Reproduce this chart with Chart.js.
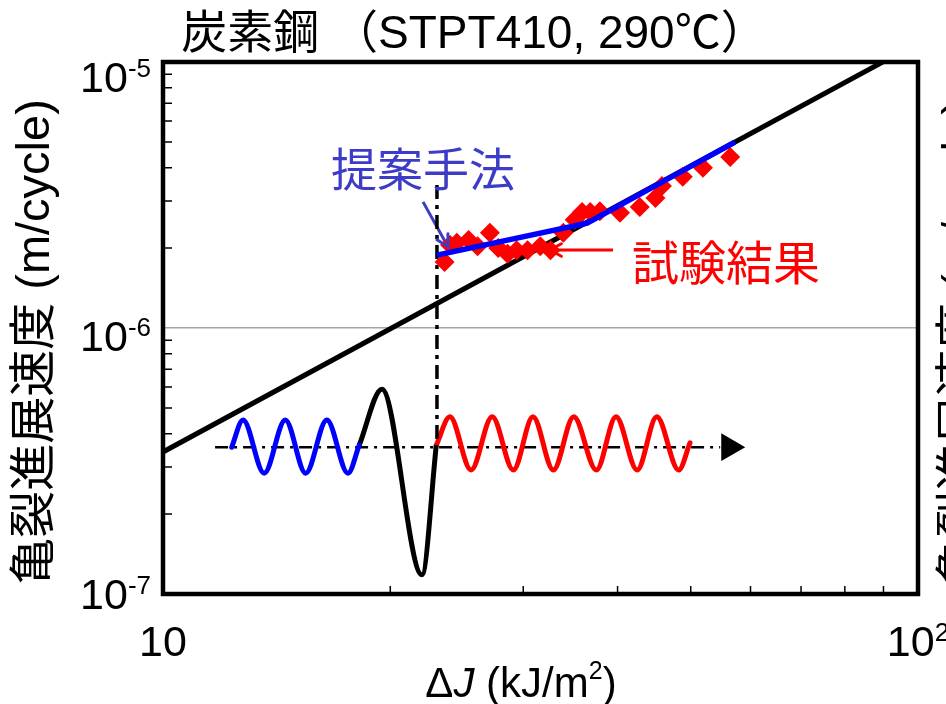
<!DOCTYPE html>
<html><head><meta charset="utf-8">
<script src="https://cdn.jsdelivr.net/npm/chart.js@4"></script>
<style>html,body{margin:0;padding:0;background:#fff}</style>
</head><body>
<canvas id="c" width="946" height="704"></canvas>
<script>
// ---------- text ----------
const titleText = '炭素鋼 （STPT410, 290℃）';
const yTitleText = '亀裂進展速度 (m/cycle)';
const proposedLabel = '提案手法';
const testLabel = '試験結果';

// ---------- ticks ----------
const xMajorTicks = [10, 100];
const xTickBase = ['10', '10'];
const xTickExp = ['', '2'];
const xMinorTicks = [20, 30, 40, 50, 60, 70, 80, 90];
const yMajorTicks = [1e-7, 1e-6, 1e-5];
const yTickBase = ['10', '10', '10'];
const yTickExp = ['-7', '-6', '-5'];
const yMinorTicks = [2e-7, 3e-7, 4e-7, 5e-7, 6e-7, 7e-7, 8e-7, 9e-7,
                     2e-6, 3e-6, 4e-6, 5e-6, 6e-6, 7e-6, 8e-6, 9e-6];

// ---------- data (ΔJ kJ/m², da/dN m/cycle) ----------
const testDJ   = [23.6, 24.0, 24.5, 25.4, 26.1, 27.1, 27.8, 28.6, 29.4, 30.4, 31.6, 32.6,
                  33.9, 35.1, 35.9, 36.8, 37.9, 40.3, 42.8, 44.9, 45.8, 48.8, 51.9, 56.4];
const testRate = [1.77e-6, 2.05e-6, 2.09e-6, 2.14e-6, 2.03e-6, 2.28e-6, 2.00e-6, 1.90e-6,
                  1.96e-6, 1.96e-6, 2.03e-6, 1.96e-6, 2.28e-6, 2.55e-6, 2.73e-6, 2.73e-6,
                  2.75e-6, 2.71e-6, 2.85e-6, 3.08e-6, 3.42e-6, 3.70e-6, 4.00e-6, 4.39e-6];
const parisDJ   = [10, 100];
const parisRate = [3.42e-7, 1.18e-5];
const proposedDJ   = [23.06, 36.45, 57.2];
const proposedRate = [1.88e-6, 2.48e-6, 5.0e-6];
const switchDJ   = [23.06, 23.06];
const switchRate = [3.45e-6, 3.63e-7];
// annotation arrows
const propArrowDJ = [22.1, 23.85];
const propArrowRate = [2.98e-6, 2.02e-6];
const testArrowDJ = [39.45, 32.55];
const testArrowRate = [1.964e-6, 1.964e-6];
const proposedLabelAt = [22.1, 3.98e-6];
const testLabelAt = [55.7, 1.77e-6];

// ---------- schematic load waveform (schematic units 0-100) ----------
const waveBlueX = [9.1, 10.6, 13.4, 16.2, 18.9, 21.7, 24.5, 26.0];
const waveBlueY = [27.6, 32.7, 22.7, 32.7, 22.7, 32.7, 22.7, 28.0];
const waveBlackX = [26.0, 29.0, 34.3, 36.2];
const waveBlackY = [28.0, 38.5, 3.6, 28.0];
const waveRedX = [36.2, 38.0, 40.8, 43.6, 46.4, 49.0, 51.7, 54.4, 57.4, 60.0, 62.8, 65.4, 68.3, 69.8];
const waveRedY = [28.0, 33.3, 23.3, 33.3, 23.3, 33.3, 23.3, 33.3, 23.3, 33.3, 23.3, 33.3, 23.3, 28.4];
const timeAxisX = [6.9, 73.8];
const timeAxisY = [27.6, 27.6];
const timeArrowX = [75.0];
const timeArrowY = [27.6];

const zip = (xs, ys) => xs.map((v, i) => ({x: v, y: ys[i]}));
const LATIN = "'Liberation Sans', Arial, 'Noto Sans CJK JP', sans-serif";
const CJK = "'Noto Sans CJK JP', 'Liberation Sans', sans-serif";
const yLabelShift = [0, 8, 15];

function powLabel(ctx, base, exp, x, yMid, align, bs, es) {
  ctx.font = bs + 'px ' + LATIN;
  const wb = ctx.measureText(base).width;
  ctx.font = es + 'px ' + LATIN;
  const we = exp ? ctx.measureText(exp).width : 0;
  const total = wb + we;
  const left = align === 'right' ? x - total : align === 'center' ? x - total / 2 : x;
  const baseline = yMid + 0.358 * bs;
  ctx.textAlign = 'left'; ctx.textBaseline = 'alphabetic';
  ctx.font = bs + 'px ' + LATIN;
  ctx.fillText(base, left, baseline);
  if (exp) {
    ctx.font = es + 'px ' + LATIN;
    const top = baseline - 0.716 * bs - 3;
    ctx.fillText(exp, left + wb, top + 0.716 * es);
  }
}

const decor = {
  id: 'decor',
  afterDatasetsDraw(chart) {
    const {ctx} = chart;
    ctx.save();
    chart.data.datasets.forEach((ds, i) => {
      if (!ds.arrowHead) return;
      const pts = chart.getDatasetMeta(i).data;
      const p1 = pts[pts.length - 2], p2 = pts[pts.length - 1];
      const ang = Math.atan2(p2.y - p1.y, p2.x - p1.x);
      const L = 13;
      ctx.strokeStyle = ds.borderColor; ctx.lineWidth = ds.borderWidth; ctx.lineCap = 'round';
      ctx.beginPath();
      ctx.moveTo(p2.x - L * Math.cos(ang - 0.5), p2.y - L * Math.sin(ang - 0.5));
      ctx.lineTo(p2.x, p2.y);
      ctx.lineTo(p2.x - L * Math.cos(ang + 0.5), p2.y - L * Math.sin(ang + 0.5));
      ctx.stroke();
    });
    ctx.restore();
  },
  afterDraw(chart) {
    const {ctx, chartArea: a, scales: {x, y}} = chart;
    ctx.save();
    ctx.fillStyle = '#000'; ctx.strokeStyle = '#000';
    // inward ticks
    ctx.lineWidth = 1.5;
    ctx.beginPath();
    xMinorTicks.forEach(v => { const px = x.getPixelForValue(v); ctx.moveTo(px, a.bottom); ctx.lineTo(px, a.bottom - 8); });
    yMinorTicks.forEach(v => { const py = y.getPixelForValue(v); ctx.moveTo(a.left, py); ctx.lineTo(a.left + 9, py); });
    ctx.stroke();
    // frame
    ctx.lineWidth = 4.5;
    ctx.strokeRect(a.left, a.top, a.right - a.left, a.bottom - a.top);
    // tick labels
    yMajorTicks.forEach((v, i) => powLabel(ctx, yTickBase[i], yTickExp[i], 151, y.getPixelForValue(v) + yLabelShift[i], 'right', 43, 26));
    xMajorTicks.forEach((v, i) => powLabel(ctx, xTickBase[i], xTickExp[i], x.getPixelForValue(v), 641, 'center', 43, 26));
    // title
    ctx.font = '46px ' + LATIN; ctx.textAlign = 'center'; ctx.textBaseline = 'alphabetic';
    ctx.fillText(titleText, 474, 48);
    // x title: ΔJ (kJ/m2)
    const parts = [['Δ', '42px ' + LATIN, 0], ['J', 'italic 42px ' + LATIN, 0], [' (kJ/m', '42px ' + LATIN, 0], ['2', '25px ' + LATIN, -18], [')', '42px ' + LATIN, 0]];
    let tw = 0;
    parts.forEach(p => { ctx.font = p[1]; p.push(ctx.measureText(p[0]).width); tw += p[3]; });
    let cx = 521 - tw / 2;
    ctx.textAlign = 'left';
    parts.forEach(p => { ctx.font = p[1]; ctx.fillText(p[0], cx, 697 + p[2]); cx += p[3]; });
    // y titles (left, and the neighbouring chart's, cut at the edge)
    [[36, 342], [962, 342]].forEach(([tx, ty]) => {
      ctx.save(); ctx.translate(tx, ty); ctx.rotate(-Math.PI / 2);
      ctx.font = '47px ' + LATIN; ctx.textAlign = 'center'; ctx.textBaseline = 'middle';
      ctx.fillText(yTitleText, 0, 0);
      ctx.restore();
    });
    // annotation labels
    ctx.textAlign = 'center'; ctx.textBaseline = 'middle';
    ctx.font = '46px ' + CJK; ctx.fillStyle = '#3c3cc8';
    ctx.fillText(proposedLabel, x.getPixelForValue(proposedLabelAt[0]), y.getPixelForValue(proposedLabelAt[1]));
    ctx.font = '47px ' + CJK; ctx.fillStyle = '#ff0000';
    ctx.fillText(testLabel, x.getPixelForValue(testLabelAt[0]), y.getPixelForValue(testLabelAt[1]));
    ctx.restore();
  }
};

const L = {showLine: true, pointRadius: 0, fill: false};
new Chart(document.getElementById('c'), {
  type: 'scatter',
  data: {datasets: [
    {...L, label: '提案手法', data: zip(proposedDJ, proposedRate), borderColor: '#0000ff', borderWidth: 5.5},
    {label: '試験結果', data: zip(testDJ, testRate), pointStyle: 'rectRot', pointRadius: 10, backgroundColor: '#ff0000', borderWidth: 0},
    {...L, label: 'paris', data: zip(parisDJ, parisRate), borderColor: '#000', borderWidth: 5},
    {...L, label: 'switch', data: zip(switchDJ, switchRate), borderColor: '#000', borderWidth: 3.5, borderDash: [14, 6, 4, 6]},
    {...L, label: 'propArrow', data: zip(propArrowDJ, propArrowRate), borderColor: '#3c3cc8', borderWidth: 3, arrowHead: true},
    {...L, label: 'testArrow', data: zip(testArrowDJ, testArrowRate), borderColor: '#ff0000', borderWidth: 3, arrowHead: true},
    {...L, label: 'waveBlue', data: zip(waveBlueX, waveBlueY), xAxisID: 'xs', yAxisID: 'ys', borderColor: '#0000ff', borderWidth: 5, cubicInterpolationMode: 'monotone', borderCapStyle: 'round'},
    {...L, label: 'waveBlack', data: zip(waveBlackX, waveBlackY), xAxisID: 'xs', yAxisID: 'ys', borderColor: '#000', borderWidth: 5, cubicInterpolationMode: 'monotone'},
    {...L, label: 'waveRed', data: zip(waveRedX, waveRedY), xAxisID: 'xs', yAxisID: 'ys', borderColor: '#ff0000', borderWidth: 5, cubicInterpolationMode: 'monotone', borderCapStyle: 'round'},
    {label: 'timeArrow', data: zip(timeArrowX, timeArrowY), xAxisID: 'xs', yAxisID: 'ys', pointStyle: 'triangle', rotation: 90, pointRadius: 16, backgroundColor: '#000', borderWidth: 0},
    {...L, label: 'timeAxis', data: zip(timeAxisX, timeAxisY), xAxisID: 'xs', yAxisID: 'ys', borderColor: '#000', borderWidth: 2.5, borderDash: [13, 6, 3, 6]}
  ]},
  options: {
    responsive: false, animation: false, devicePixelRatio: 1,
    layout: {padding: {top: 62, right: 28, left: 0, bottom: 0}},
    plugins: {legend: {display: false}, tooltip: {enabled: false}, title: {display: false}},
    elements: {line: {tension: 0}},
    scales: {
      x: {type: 'logarithmic', position: 'bottom', min: 10, max: 100,
          afterBuildTicks: s => { s.ticks = xMajorTicks.concat(xMinorTicks).map(v => ({value: v})); },
          ticks: {display: false}, grid: {display: false}, border: {display: false},
          afterFit: s => { s.height = 110; }},
      y: {type: 'logarithmic', position: 'left', min: 1e-7, max: 1e-5,
          afterBuildTicks: s => { s.ticks = yMajorTicks.map(v => ({value: v})); },
          ticks: {display: false},
          grid: {color: c => (c.tick && c.tick.value === 1e-6) ? '#a6a6a6' : 'rgba(0,0,0,0)', lineWidth: 1.5, drawTicks: false},
          border: {display: false},
          afterFit: s => { s.width = 163; }},
      xs: {type: 'linear', min: 0, max: 100, display: false},
      ys: {type: 'linear', min: 0, max: 100, display: false}
    }
  },
  plugins: [decor]
});
</script>
</body></html>
